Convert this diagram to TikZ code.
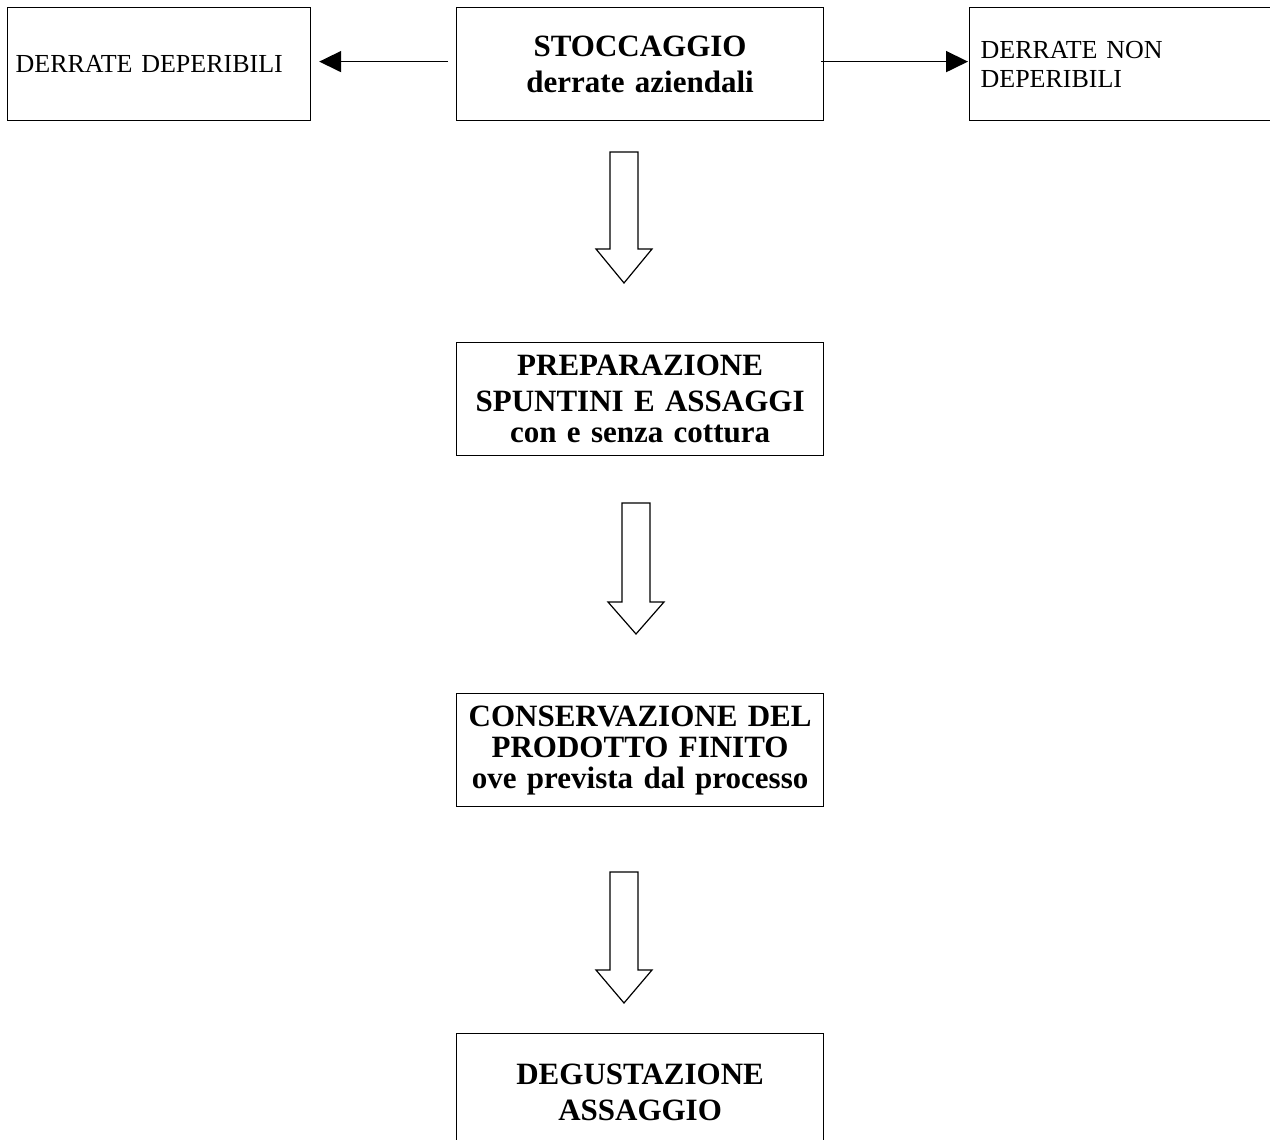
\documentclass[tikz,border=0pt]{standalone}
\usepackage{fontspec}
\setmainfont[WordSpace={0.85,0,0}]{Liberation Serif}
\usetikzlibrary{arrows.meta}
\tikzset{
  box/.style={draw, line width=1.2pt, rectangle, anchor=north west, inner ysep=0pt},
  centerbox/.style={box, minimum width=367pt, minimum height=113pt, inner xsep=4pt,
    text width=359pt, align=center, font=\fontsize{31}{36}\selectfont\bfseries},
  sidebox/.style={box, minimum height=113pt, align=left,
    font=\fontsize{26}{29}\selectfont},
  conn/.style={line width=1.8pt, -{Triangle[length=22pt,width=21pt]}},
  blockarrow/.style={draw, line width=1.2pt, fill=white, line join=miter},
}
\newcommand\myblockarrow[3]{% coordinate, shaft length, head length
  \draw[blockarrow] (#1) ++(-14,0) -- ++(28,0) -- ++(0,#2) -- ++(14,0)
     -- ++(-28,#3) -- ++(-28,-#3) -- ++(14,0) -- cycle;}
\begin{document}
\begin{tikzpicture}[x=1pt,y=-1pt]
\useasboundingbox[fill=white] (0,0) rectangle (1270,1140);
\node[sidebox, minimum width=303pt, inner xsep=8pt, text width=287pt] (perish) at (7,7) {DERRATE DEPERIBILI};
\node[centerbox] (store) at (456,7) {STOCCAGGIO\\derrate aziendali};
\node[sidebox, minimum width=340pt, inner xsep=11pt, text width=318pt] (nonperish) at (969,7) {DERRATE NON\\DEPERIBILI};
\node[centerbox] (prep) at (456,342) {PREPARAZIONE\\SPUNTINI E ASSAGGI\\[-5pt]con e senza cottura};
\node[centerbox, font=\fontsize{31}{31}\selectfont\bfseries] (keep) at (456,693) {CONSERVAZIONE DEL\\PRODOTTO FINITO\\ove prevista dal processo};
\node[centerbox, minimum height=117pt] (taste) at (456,1033) {DEGUSTAZIONE\\ASSAGGIO};

\draw[conn] ([shift={(-8,-2.5)}]store.west) -- ([shift={(8,-2.5)}]perish.east);
\draw[conn] ([shift={(-3,-2.5)}]store.east) -- ([shift={(-1,-2.5)}]nonperish.west);

\coordinate (a1) at (624,152);
\coordinate (a2) at (636,503);
\coordinate (a3) at (624,872);
\myblockarrow{a1}{97}{34}
\myblockarrow{a2}{99}{32}
\myblockarrow{a3}{98}{33}
\end{tikzpicture}
\end{document}
